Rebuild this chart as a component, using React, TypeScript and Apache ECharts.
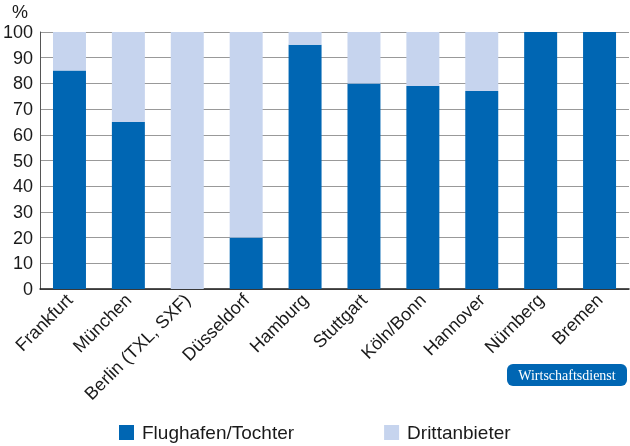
import { useEffect, useRef } from "react";
import * as echarts from "echarts";

const FONT = "Liberation Sans, Arial, sans-serif";
const DARK = "#0066b3";
const LIGHT = "#c6d4ee";

const airports = [
  "Frankfurt",
  "München",
  "Berlin (TXL, SXF)",
  "Düsseldorf",
  "Hamburg",
  "Stuttgart",
  "Köln/Bonn",
  "Hannover",
  "Nürnberg",
  "Bremen",
];
const flughafen = [85, 65, 0, 20, 95, 80, 79, 77, 100, 100];
const dritt = [15, 35, 100, 80, 5, 20, 21, 23, 0, 0];

export default function App() {
  const elRef = useRef<HTMLDivElement>(null);

  useEffect(() => {
    const el = elRef.current;
    if (!el) return;
    const chart = echarts.init(el, null, { renderer: "svg" });
    chart.setOption({
      animation: false,
      textStyle: { fontFamily: FONT },
      grid: { left: 39, right: 1, top: 32, bottom: 157 },
      legend: {
        left: 119,
        top: 423,
        padding: 0,
        itemWidth: 15,
        itemHeight: 15,
        itemGap: 90,
        icon: "rect",
        textStyle: { fontSize: 19, lineHeight: 19, color: "#1a1a1a", fontFamily: FONT, padding: [0, 0, 0, 3] },
        data: ["Flughafen/Tochter", "Drittanbieter"],
      },
      graphic: [
        { type: "text", left: 12, top: 3, style: { text: "%", fontSize: 18, fill: "#1a1a1a", fontFamily: FONT } },
        {
          type: "group",
          left: 507,
          top: 364,
          children: [
            { type: "rect", shape: { x: 0, y: 0, width: 120, height: 22, r: 6 }, style: { fill: DARK } },
            {
              type: "text",
              x: 60,
              y: 11,
              style: {
                text: "Wirtschaftsdienst",
                fontSize: 14,
                fill: "#fff",
                fontFamily: "Liberation Serif, serif",
                align: "center",
                verticalAlign: "middle",
              },
            },
          ],
        },
      ],
      xAxis: {
        type: "category",
        data: airports,
        axisLine: { lineStyle: { color: "#1a1a1a", width: 1.5 } },
        axisTick: { show: false },
        axisLabel: { rotate: 45, fontSize: 18, color: "#1a1a1a", margin: 8, interval: 0 },
      },
      yAxis: {
        type: "value",
        min: 0,
        max: 100,
        interval: 10,
        axisLine: { show: true, lineStyle: { color: "#555", width: 1 } },
        axisTick: { show: false },
        splitLine: { lineStyle: { color: "#999", width: 1 } },
        axisLabel: { fontSize: 18, color: "#1a1a1a", margin: 7 },
      },
      series: [
        {
          name: "Flughafen/Tochter",
          type: "bar",
          stack: "a",
          data: flughafen,
          barWidth: "56%",
          itemStyle: { color: DARK },
        },
        {
          name: "Drittanbieter",
          type: "bar",
          stack: "a",
          data: dritt,
          barWidth: "56%",
          itemStyle: { color: LIGHT },
        },
      ],
    });
    return () => chart.dispose();
  }, []);

  return <div ref={elRef} style={{ position: "fixed", left: 0, top: 0, width: 630, height: 446 }} />;
}
